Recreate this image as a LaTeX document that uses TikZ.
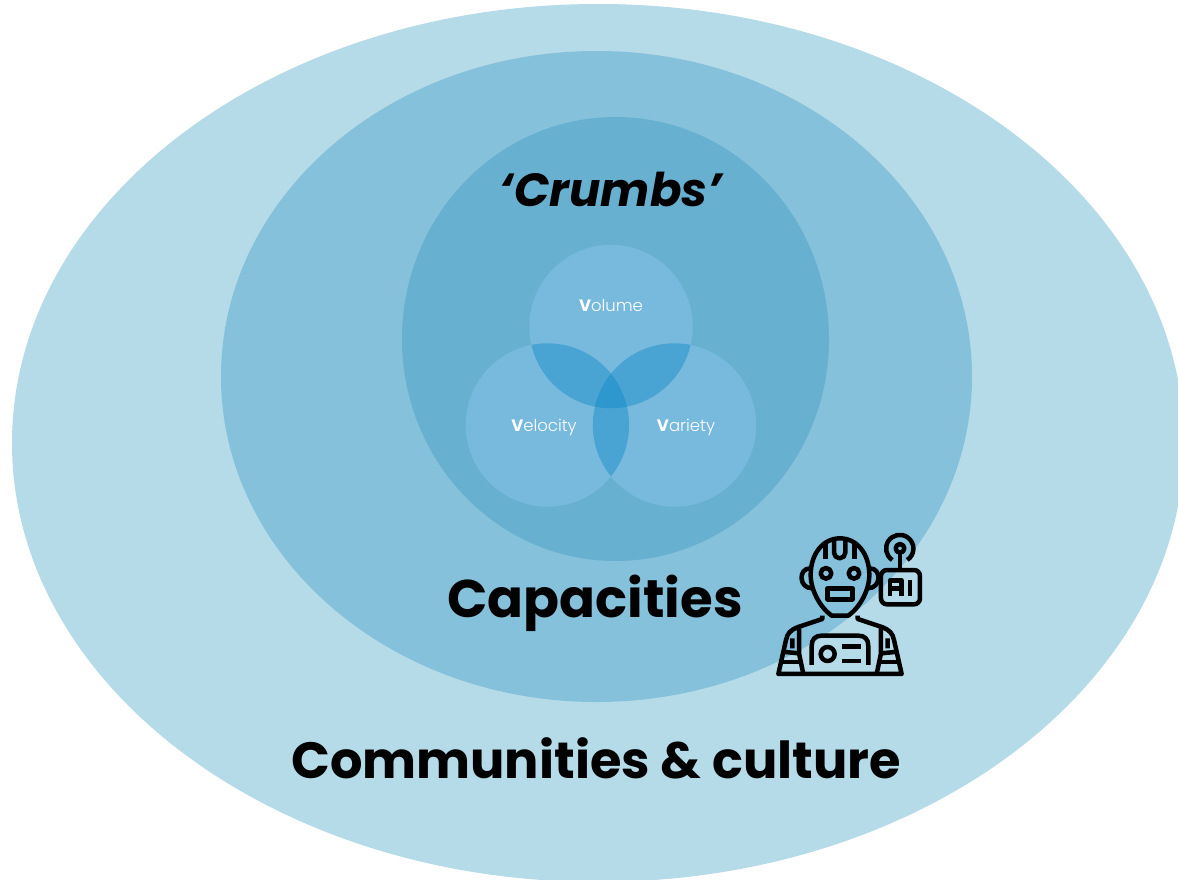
\documentclass[tikz,border=0pt]{standalone}
\usepackage{fontspec}
\setmainfont{Poppins}
\newfontfamily\lightfont{Poppins Light}
\definecolor{outerc}{HTML}{B5DAE8}
\definecolor{midc}{HTML}{85C1DA}
\definecolor{innerc}{HTML}{68B0D0}
\definecolor{circc}{HTML}{78B9DE}
\definecolor{twoc}{HTML}{4AA4D3}
\definecolor{threec}{HTML}{2E97CD}
\tikzset{
  bigtext/.style={font=\fontsize{52}{56}\selectfont\fontseries{sb}\selectfont,text=black,inner sep=0pt},
  vtext/.style={font=\fontsize{16.5}{18}\selectfont\lightfont,text=white,inner sep=0pt},
}
\newcommand{\boldv}{{\fontseries{b}\selectfont\rmfamily V}}
\begin{document}
\begin{tikzpicture}[x=1pt,y=-1pt]
\useasboundingbox (0,0) rectangle (1178,879);
\clip (0,0) rectangle (1178,879);
\fill[white] (0,0) rectangle (1178,879);
\fill[outerc] (598,443) ellipse [x radius=586,y radius=439];
\fill[midc] (596.5,376.5) ellipse [x radius=375.5,y radius=325.5];
\fill[innerc] (615.5,339) ellipse [x radius=213.5,y radius=222];
\fill[circc] (611,326.5) circle (81.7);
\fill[circc] (547.4,425) circle (81.7);
\fill[circc] (674.5,425) circle (81.7);
\begin{scope}
  \clip (611,326.5) circle (81.7);
  \fill[twoc] (547.4,425) circle (81.7);
  \fill[twoc] (674.5,425) circle (81.7);
\end{scope}
\begin{scope}
  \clip (547.4,425) circle (81.7);
  \fill[twoc] (674.5,425) circle (81.7);
  \clip (611,326.5) circle (81.7);
  \fill[threec] (674.5,425) circle (81.7);
\end{scope}
\node[font=\fontsize{46.5}{50}\selectfont\bfseries\itshape,text=black,inner sep=0pt] (crumbs) at (611,189) {‘Crumbs’};
\node[vtext] (volume) at (611,305) {\boldv olume};
\node[vtext] (velocity) at (544,427) {\boldv elocity};
\node[vtext] (variety) at (686,427) {\boldv ariety};
\node[bigtext,font=\fontsize{53}{56}\selectfont\fontseries{sb}\selectfont] (capacities) at (595,603) {Capacities};
\node[bigtext,font=\fontsize{51}{56}\selectfont\fontseries{sb}\selectfont] (communities) at (596,758) {Communities \& culture};
\begin{scope}[shift={(760,520)},x=0.3333pt,y=-0.3333pt,line width=4.5pt,line join=round]
  % head
  \draw (240,55) .. controls (190,55) and (152,100) .. (152,165) .. controls (152,210) and (180,262) .. (215,287) -- (265,287) .. controls (300,262) and (328,210) .. (328,165) .. controls (328,100) and (290,55) .. (240,55) -- cycle;
  \draw (150,145) .. controls (115,145) and (115,205) .. (157,205);
  \draw (330,145) .. controls (365,145) and (365,205) .. (323,205);
  \draw (198,160) circle (16);
  \draw (282,160) circle (16);
  \draw (203,205) rectangle (277,238);
  \draw (197,72) -- (197,118);
  \draw (283,72) -- (283,118);
  \draw (222,62) -- (222,98) arc[start angle=180,end angle=360,x radius=17,y radius=-17] -- (256,62);
  % body
  \draw (187,287) -- (187,297) -- (112,322) .. controls (92,330) and (82,340) .. (78,360) -- (55,462) -- (425,462) -- (402,360) .. controls (398,340) and (388,330) .. (368,322) -- (293,297) -- (293,287);
  \draw (155,435) -- (155,378) .. controls (155,358) and (165,347) .. (185,347) -- (295,347) .. controls (315,347) and (325,358) .. (325,378) -- (325,435);
  \draw (203,402) circle (21);
  \draw (246,380) -- (303,380);
  \draw (246,423) -- (303,423);
  % arms
  \draw (97,355) -- (97,385) (75,396) -- (117,400) (117,325) -- (117,400) -- (130,462);
  \draw (383,355) -- (383,385) (405,396) -- (363,400) (363,325) -- (363,400) -- (350,462);
  \draw (62,426) -- (124,426) (356,426) -- (418,426);
  % AI box
  \draw[rounded corners=6pt] (363,150) rectangle (480,253);
  \draw (420,150) -- (420,97);
  \draw (420,85) circle (13);
  \draw (397,120) arc[start angle=123,end angle=417,radius=41];
  \draw (390,228) -- (390,182) -- (425,182) -- (425,228) (390,205) -- (425,205);
  \draw (450,180) -- (450,228);
\end{scope}
\end{tikzpicture}
\end{document}
